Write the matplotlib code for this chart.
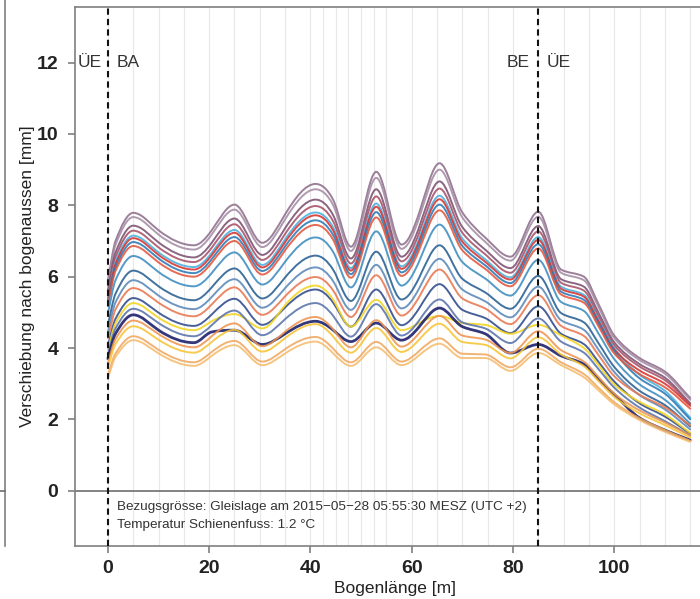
import numpy as np
import matplotlib
import matplotlib.pyplot as plt
from matplotlib.path import Path
from matplotlib.patches import PathPatch
from matplotlib.lines import Line2D

matplotlib.use('Agg')
plt.rcParams['font.family'] = ['Liberation Sans', 'DejaVu Sans']

# Stuetzstellen entlang des Bogens [m]
bogen_m = [0, 1.5, 5, 10, 17, 20.5, 25, 30.5, 35, 41, 44.5, 48, 53, 58, 61.5,
           65.5, 70, 74.5, 79.5, 85, 89.5, 94, 97, 100, 105, 110, 115]

# Verschiebung nach bogenaussen [mm], je Messung (von oben nach unten)
v01 = [5.9, 7.0, 7.79, 7.3, 6.88, 7.3, 8.02, 6.95, 7.75, 8.6, 8.15, 6.84, 8.94, 6.9, 7.8, 9.18, 7.8, 7.1, 6.56, 7.82, 6.2, 6.0, 5.2, 4.35, 3.72, 3.34, 2.6]
v02 = [5.80, 6.89, 7.67, 7.18, 6.76, 7.18, 7.88, 6.83, 7.61, 8.45, 8.0, 6.72, 8.77, 6.78, 7.66, 9.0, 7.66, 6.98, 6.45, 7.68, 6.11, 5.9, 5.12, 4.28, 3.66, 3.28, 2.55]
v03 = [5.63, 6.68, 7.43, 6.96, 6.54, 6.95, 7.63, 6.61, 7.36, 8.16, 7.72, 6.51, 8.45, 6.56, 7.4, 8.67, 7.39, 6.76, 6.24, 7.42, 5.93, 5.72, 4.96, 4.16, 3.55, 3.17, 2.45]
v04 = [5.52, 6.55, 7.29, 6.82, 6.41, 6.81, 7.47, 6.47, 7.2, 7.98, 7.55, 6.37, 8.25, 6.43, 7.24, 8.47, 7.23, 6.63, 6.11, 7.27, 5.83, 5.61, 4.86, 4.08, 3.48, 3.10, 2.42]
v05 = [5.41, 6.42, 7.15, 6.68, 6.27, 6.67, 7.31, 6.33, 7.05, 7.8, 7.38, 6.24, 8.05, 6.29, 7.08, 8.27, 7.07, 6.49, 5.98, 7.11, 5.72, 5.49, 4.77, 4.0, 3.25, 2.8, 2.05]
v06 = [5.35, 6.35, 7.08, 6.61, 6.2, 6.6, 7.23, 6.26, 6.97, 7.72, 7.29, 6.17, 7.96, 6.22, 7.0, 8.17, 6.98, 6.42, 5.92, 7.03, 5.66, 5.44, 4.72, 3.96, 3.37, 3.0, 2.38]
v07 = [5.27, 6.25, 6.97, 6.51, 6.1, 6.49, 7.11, 6.16, 6.85, 7.58, 7.16, 6.07, 7.81, 6.12, 6.88, 8.02, 6.86, 6.32, 5.82, 6.91, 5.58, 5.35, 4.65, 3.91, 3.15, 2.72, 2.0]
v08 = [5.19, 6.16, 6.86, 6.4, 6.0, 6.39, 7.0, 6.06, 6.74, 7.45, 7.03, 5.97, 7.66, 6.02, 6.76, 7.86, 6.74, 6.22, 5.73, 6.79, 5.5, 5.27, 4.58, 3.85, 3.27, 2.9, 2.3]
v09 = [4.97, 5.9, 6.58, 6.13, 5.73, 6.1, 6.68, 5.78, 6.42, 7.1, 6.69, 5.7, 7.27, 5.75, 6.44, 7.46, 6.41, 5.95, 5.47, 6.47, 5.29, 5.04, 4.38, 3.69, 2.98, 2.55, 1.88]
v10 = [4.65, 5.52, 6.17, 5.73, 5.34, 5.7, 6.23, 5.39, 5.98, 6.59, 6.19, 5.32, 6.7, 5.36, 5.98, 6.88, 5.94, 5.56, 5.1, 6.02, 4.98, 4.72, 4.11, 3.47, 2.8, 2.4, 1.8]
v11 = [4.45, 5.28, 5.9, 5.47, 5.09, 5.43, 5.93, 5.13, 5.68, 6.26, 5.87, 5.07, 6.33, 5.11, 5.68, 6.5, 5.64, 5.31, 4.86, 5.72, 4.78, 4.51, 3.93, 3.33, 2.68, 2.28, 1.72]
v12 = [4.28, 5.08, 5.68, 5.27, 4.89, 5.22, 5.7, 4.93, 5.45, 5.99, 5.61, 4.87, 6.04, 4.91, 5.44, 6.2, 5.39, 5.11, 4.67, 5.48, 4.62, 4.34, 3.78, 3.21, 2.69, 2.34, 1.83]
v13 = [4.06, 4.82, 5.4, 4.99, 4.62, 4.94, 5.38, 4.65, 5.14, 5.64, 5.27, 4.6, 5.64, 4.64, 5.12, 5.79, 5.07, 4.84, 4.42, 5.17, 4.4, 4.11, 3.59, 3.06, 2.45, 2.08, 1.6]
v14 = [3.96, 4.69, 5.26, 4.85, 4.5, 4.75, 4.95, 4.55, 5.2, 5.75, 5.35, 4.6, 5.35, 4.5, 4.7, 4.9, 4.7, 4.65, 4.4, 4.65, 4.35, 4.0, 3.5, 2.98, 2.49, 2.14, 1.62]
v15 = [3.83, 4.55, 5.1, 4.7, 4.33, 4.64, 5.05, 4.36, 4.81, 5.26, 4.9, 4.32, 5.23, 4.35, 4.78, 5.36, 4.72, 4.55, 4.14, 4.83, 4.18, 3.87, 3.39, 2.89, 2.33, 1.95, 1.55]
v16 = [3.7, 4.4, 4.93, 4.5, 4.15, 4.45, 4.5, 4.1, 4.4, 4.75, 4.5, 4.18, 4.7, 4.22, 4.6, 5.12, 4.6, 4.4, 3.86, 4.1, 3.78, 3.55, 3.1, 2.7, 2.04, 1.7, 1.42]
v17 = [3.59, 4.25, 4.77, 4.39, 4.02, 4.33, 4.69, 4.05, 4.46, 4.87, 4.52, 4.02, 4.78, 4.04, 4.42, 4.9, 4.35, 4.24, 3.86, 4.47, 3.94, 3.62, 3.17, 2.72, 2.25, 1.91, 1.55]
v18 = [3.46, 4.11, 4.61, 4.23, 3.87, 4.17, 4.51, 3.9, 4.28, 4.67, 4.32, 3.87, 4.56, 3.89, 4.24, 4.68, 4.17, 4.09, 3.71, 4.3, 3.82, 3.49, 3.06, 2.63, 2.17, 1.84, 1.49]
v19 = [3.24, 3.85, 4.33, 3.95, 3.6, 3.89, 4.2, 3.62, 3.97, 4.31, 3.98, 3.6, 4.17, 3.62, 3.92, 4.27, 3.84, 3.82, 3.46, 3.98, 3.6, 3.27, 2.87, 2.48, 2.03, 1.7, 1.40]
v20 = [3.16, 3.75, 4.22, 3.85, 3.5, 3.78, 4.08, 3.52, 3.85, 4.18, 3.85, 3.5, 4.02, 3.52, 3.8, 4.12, 3.72, 3.72, 3.36, 3.86, 3.52, 3.18, 2.8, 2.42, 1.98, 1.65, 1.37]

serien = [v01, v02, v03, v04, v05, v06, v07, v08, v09, v10,
          v11, v12, v13, v14, v15, v16, v17, v18, v19, v20]

farben = ['#8e6e8c', '#a48ca4', '#7b5070', '#a65068', '#48b0e0',
          '#d6322e', '#2a78b4', '#e4553c', '#3c8cc0', '#275f92',
          '#5a88b8', '#ea7650', '#2f4a8c', '#f2d420', '#5872aa',
          '#181c68', '#ee9450', '#f7c436', '#f0a860', '#f6bc6e']

gitter_x = [0, 5, 10, 15, 20, 25, 30, 35, 40, 42.5, 45, 47.5, 50, 52.5, 55,
            60, 65, 70, 75, 80, 85, 90, 95, 100, 105, 110, 115]

bogen_anfang = 0
bogen_ende = 85

kommentar = ['Bezugsgrösse: Gleislage am 2015\u221205\u221228 05:55:30 MESZ (UTC +2)',
             'Temperatur Schienenfuss: 1.2 \u00b0C']


def glatter_pfad(x, y):
    # monotone kubische Kurve als Bezier-Pfad, flach an den Extremstellen
    x = np.asarray(x, float)
    y = np.asarray(y, float)
    h = np.diff(x)
    d = np.diff(y) / h
    n = len(y)
    extrem = np.zeros(n, bool)
    m = np.zeros_like(y)
    for k in range(1, n - 1):
        if d[k - 1] * d[k] > 0:
            w1 = 2 * h[k] + h[k - 1]
            w2 = h[k] + 2 * h[k - 1]
            m[k] = (w1 + w2) / (w1 / d[k - 1] + w2 / d[k])
        else:
            extrem[k] = True
    for k in range(2, n - 2):
        # Wendepunkt zwischen zwei Extremen: steiler wie bei einer Welle
        if not extrem[k] and extrem[k - 1] and extrem[k + 1]:
            grenze = 3 * min(abs(d[k - 1]), abs(d[k]))
            m[k] = np.sign(m[k]) * min(1.45 * abs(m[k]), grenze)
    m[0] = d[0]
    m[-1] = d[-1]
    verts = [(x[0], y[0])]
    codes = [Path.MOVETO]
    for k in range(len(h)):
        verts += [(x[k] + h[k] / 3, y[k] + m[k] * h[k] / 3),
                  (x[k + 1] - h[k] / 3, y[k + 1] - m[k + 1] * h[k] / 3),
                  (x[k + 1], y[k + 1])]
        codes += [Path.CURVE4] * 3
    return Path(verts, codes)


fig = plt.figure(figsize=(7, 5.99), dpi=100)
ax = fig.add_axes([75 / 700, 53 / 599, 640 / 700, 539 / 599])

for gx in gitter_x:
    ax.axvline(gx, color='#e8e8e8', lw=0.8, zorder=0)
ax.axhline(0, color='#6e6e6e', lw=1.2, zorder=1)

for werte, farbe in zip(serien, farben):
    dicke = 2.0 if farbe == '#181c68' else 1.4
    ax.add_patch(PathPatch(glatter_pfad(bogen_m, werte), fill=False,
                           edgecolor=farbe, lw=dicke, alpha=0.88,
                           capstyle='round', zorder=2))

for xs in (bogen_anfang, bogen_ende):
    ax.axvline(xs, color='#111111', lw=1.5, ls=(0, (3, 2)), zorder=3)

ax.set_xlim(-6.5, 119.9)
ax.set_ylim(-1.55, 13.56)
ax.set_xticks([0, 20, 40, 60, 80, 100])
ax.set_yticks([0, 2, 4, 6, 8, 10, 12])

for s in ax.spines.values():
    s.set_color('#7f7f7f')
    s.set_linewidth(1.2)
ax.tick_params(axis='both', colors='#7f7f7f', width=1.2, length=5,
               labelcolor='#222222', labelsize=14)
ax.tick_params(axis='y', pad=7)
ax.tick_params(axis='x', pad=5)
for t in ax.get_xticklabels() + ax.get_yticklabels():
    t.set_fontweight('bold')

ax.set_xlabel('Bogenlänge [m]', fontsize=12.5, color='#222222', labelpad=3)
ax.set_ylabel('Verschiebung nach bogenaussen [mm]', fontsize=12.5,
              color='#222222', labelpad=1)

tk = dict(fontsize=12.5, color='#333333', va='center')
ax.text(bogen_anfang - 1.3, 12, 'ÜE', ha='right', **tk)
ax.text(bogen_anfang + 1.7, 12, 'BA', ha='left', **tk)
ax.text(bogen_ende - 1.8, 12, 'BE', ha='right', **tk)
ax.text(bogen_ende + 1.6, 12, 'ÜE', ha='left', **tk)

ax.text(1.7, -0.47, kommentar[0], fontsize=9.7, color='#333333', va='center')
ax.text(1.7, -0.97, kommentar[1], fontsize=9.7, color='#333333', va='center')

# Rest des Nachbarpanels am linken Bildrand
fig.add_artist(Line2D([4.5 / 700, 4.5 / 700], [53 / 599, 1.0],
                      color='#7f7f7f', lw=1.2))
fig.add_artist(Line2D([0, 4.5 / 700], [108 / 599, 108 / 599],
                      color='#6e6e6e', lw=1.2))

fig.savefig('out.png', dpi=100)
